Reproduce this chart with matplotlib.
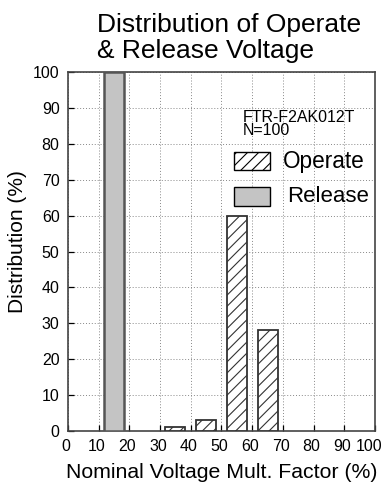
import matplotlib
matplotlib.use("Agg")
import matplotlib.pyplot as plt
import matplotlib.transforms as mtransforms
from matplotlib.patches import Rectangle

plt.rcParams['font.family'] = ['Liberation Sans', 'DejaVu Sans']
plt.rcParams['hatch.linewidth'] = 0.8

release_x = [15]
release_y = [100]
operate_x = [35, 45, 55, 65]
operate_y = [1, 3, 60, 28]
xticks = list(range(0, 101, 10))
yticks = list(range(0, 101, 10))

fig = plt.figure(figsize=(3.86, 4.87), dpi=100)
ax = fig.add_axes([0.176, 0.115, 0.7955, 0.737])

ax.bar(release_x, release_y, width=6.5, color='#c4c4c4', edgecolor='#555555', linewidth=1.8, zorder=3)
ax.bar(operate_x, operate_y, width=6.5, color='white', edgecolor='#333333', hatch='///', linewidth=1.3, zorder=3)

ax.set_xlim(0, 100)
ax.set_ylim(0, 100)
ax.set_xticks(xticks)
ax.set_yticks(yticks)
ax.tick_params(direction='in', length=4, labelsize=11.5, colors='black', width=0.9, pad=6)
ax.tick_params(axis='y', pad=6)
ax.grid(True, linestyle=(0, (1, 2)), color='#888888', linewidth=0.7, zorder=0)
for s in ax.spines.values():
    s.set_linewidth(1.2)
    s.set_color('#444444')

fig.canvas.draw()
labels = ax.get_xticklabels()
for i, lab in enumerate(labels):
    dx = -4 / 72 if i == len(labels) - 1 else -1.5 / 72
    lab.set_transform(lab.get_transform() + mtransforms.ScaledTranslation(dx, 0, fig.dpi_scale_trans))

ax.set_xlabel('Nominal Voltage Mult. Factor (%)', fontsize=15.3, labelpad=6)
ax.set_ylabel('Distribution (%)', fontsize=15)
ax.yaxis.set_label_coords(-0.134, 0.529)
fig.text(0.251, 0.922, 'Distribution of Operate\n& Release Voltage', fontsize=19, ha='left', va='center', linespacing=1.12)

ax.text(0.57, 0.894, 'FTR-F2AK012T\nN=100', transform=ax.transAxes, fontsize=11.5, ha='left', va='top', linespacing=0.85, zorder=5)

ax.add_patch(Rectangle((0.541, 0.727), 0.117, 0.05, transform=ax.transAxes, facecolor='white', edgecolor='black', hatch='///', linewidth=1.0, zorder=5))
ax.text(0.70, 0.752, 'Operate', transform=ax.transAxes, fontsize=16.3, ha='left', va='center', zorder=5)
ax.add_patch(Rectangle((0.541, 0.627), 0.117, 0.053, transform=ax.transAxes, facecolor='#c4c4c4', edgecolor='black', linewidth=1.0, zorder=5))
ax.text(0.713, 0.652, 'Release', transform=ax.transAxes, fontsize=16, ha='left', va='center', zorder=5)

fig.savefig('out.png', dpi=100)
